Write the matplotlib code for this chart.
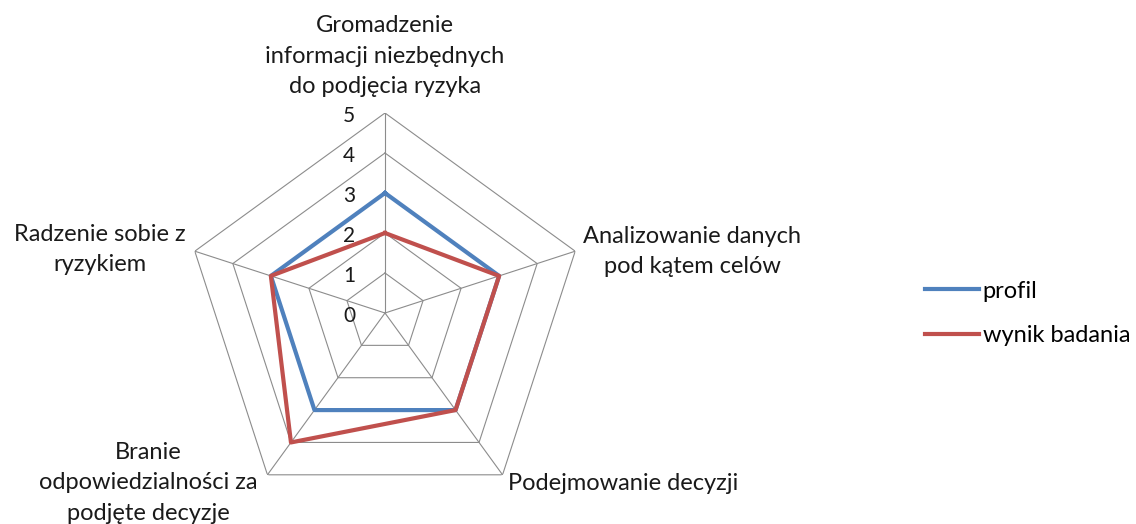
import matplotlib.pyplot as plt
import numpy as np

categories = [
    'Gromadzenie\ninformacji niezbędnych\ndo podjęcia ryzyka',
    'Analizowanie danych\npod kątem celów',
    'Podejmowanie decyzji',
    'Branie\nodpowiedzialności za\npodjęte decyzje',
    'Radzenie sobie z\nryzykiem',
]
profil = [3, 3, 3, 3, 3]
wynik = [2, 3, 3, 4, 3]
ticks = [0, 1, 2, 3, 4, 5]

colors = {'profil': '#4F81BD', 'wynik badania': '#C0504D'}
grid_color = '#8c8c8c'

plt.rcParams['font.family'] = ['Lato', 'DejaVu Sans']
fs = 17

fig = plt.figure(figsize=(11.36, 5.24), dpi=100)
# centre of radar at (385, 313) px, radius 200 px
ax = fig.add_axes([185 / 1136, 11 / 524, 400 / 1136, 400 / 524], projection='polar')
ax.set_theta_offset(np.pi / 2)
ax.set_theta_direction(-1)
ax.set_ylim(0, 5)
ax.grid(False)
ax.spines['polar'].set_visible(False)
ax.set_xticks([])
ax.set_yticks([])
ax.patch.set_visible(False)

n = len(categories)
theta = np.arange(n) * 2 * np.pi / n
theta_c = np.append(theta, theta[0])

# pentagon grid + spokes
for r in ticks[1:]:
    ax.plot(theta_c, [r] * (n + 1), color=grid_color, lw=0.8, zorder=1)
for t in theta:
    ax.plot([t, t], [0, 5], color=grid_color, lw=0.8, zorder=1)

ax.plot(theta_c, profil + profil[:1], color=colors['profil'], lw=3, label='profil', zorder=3)
ax.plot(theta_c, wynik + wynik[:1], color=colors['wynik badania'], lw=3, label='wynik badania', zorder=4)

# radial tick labels
for r in ticks:
    ax.annotate(str(r), xy=(0, r), xytext=(-36, -3), textcoords='offset pixels',
                ha='center', va='center', fontsize=15, color='#1a1a1a', zorder=5)

# category labels
offsets = [(0, 16), (8, 0), (5, -9), (-10, -8), (-9, 2)]
aligns = [('center', 'bottom'), ('left', 'center'), ('left', 'center'),
          ('right', 'center'), ('right', 'center')]
for t, lab, off, (ha, va) in zip(theta, categories, offsets, aligns):
    ax.annotate(lab, xy=(t, 5), xytext=off, textcoords='offset pixels',
                ha=ha, va=va, multialignment='center', fontsize=fs,
                color='#1a1a1a', linespacing=1.55, annotation_clip=False)

fig.legend(loc='center left', bbox_to_anchor=(925 / 1136, 1 - 313.5 / 524),
           frameon=False, fontsize=fs, handlelength=2.3, handletextpad=0.15,
           labelspacing=1.0, borderpad=0, borderaxespad=0)

plt.savefig('out.png', dpi=100)
